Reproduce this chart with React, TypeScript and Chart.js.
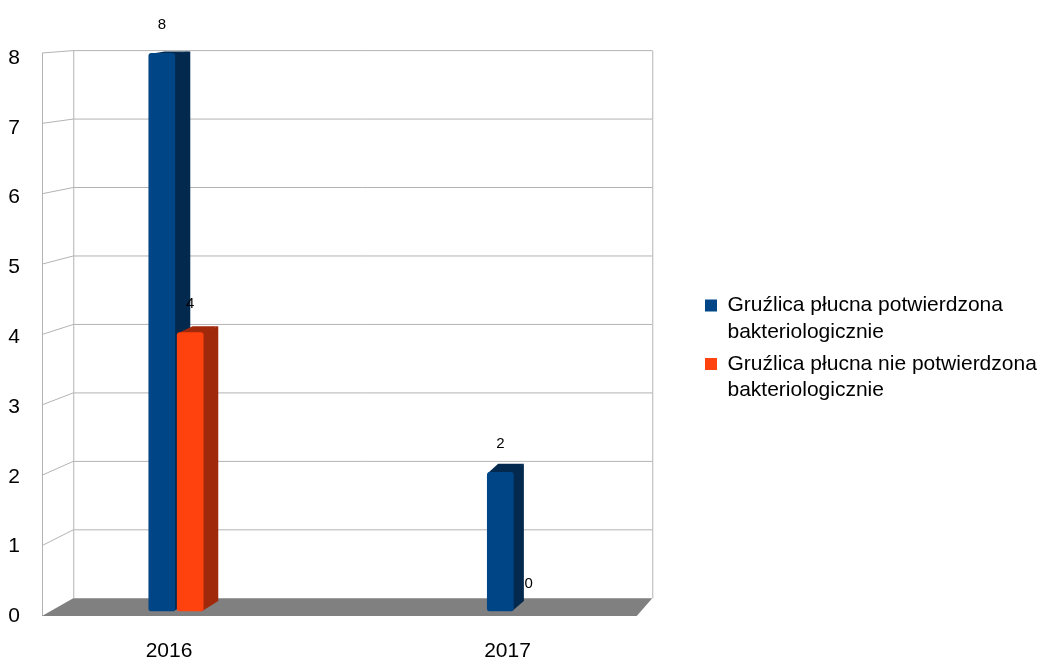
import React, { useEffect, useRef } from 'react';
import { Chart, registerables } from 'chart.js';

Chart.register(...registerables);

// ---- data ----
const categories = ['2016', '2017'];
const seriesNames = [
  'Gruźlica płucna potwierdzona bakteriologicznie',
  'Gruźlica płucna nie potwierdzona bakteriologicznie',
];
const confirmedValues = [8, 2];
const unconfirmedValues = [4, 0];
const yMin = 0;
const yTop = 8; // highest gridline / tick
const yStep = 1;
const yAxisMax = 8.1576; // axis headroom above the last tick

const frontColors = ['#004586', '#ff420e'];
const sideColors = ['#04294f', '#a0290b'];
const FONT = "'Liberation Sans', Arial, Helvetica, sans-serif";

const lerp = (a: number, b: number, t: number) => a + (b - a) * t;

// pseudo-3D walls, floor and bar sides
const wall3d = {
  id: 'wall3d',
  beforeDatasetsDraw(chart: any) {
    const { ctx, chartArea: ca, scales } = chart;
    const y = scales.y;
    const top = y.getPixelForValue(yTop);
    const bottom = y.getPixelForValue(yMin);
    const t = (v: number) => (v - yMin) / (yTop - yMin);
    const front = (v: number) => lerp(bottom + 4.5, top, t(v));
    const back = (v: number) => lerp(bottom - 13.2, top - 2.4, t(v));
    const FL = ca.left + 35.25;
    const BL = ca.left + 66.5;
    const BR = ca.right - 31.5;
    const FR = ca.right - 47;

    ctx.save();
    ctx.strokeStyle = '#b3b3b3';
    ctx.lineWidth = 1;
    for (let v = yMin + yStep; v <= yTop; v += yStep) {
      ctx.beginPath();
      ctx.moveTo(FL, front(v));
      ctx.lineTo(BL, back(v));
      ctx.lineTo(BR, back(v));
      ctx.stroke();
    }
    ctx.beginPath();
    ctx.moveTo(FL + 0.5, front(yTop));
    ctx.lineTo(FL + 0.5, front(yMin));
    ctx.moveTo(BL + 0.5, back(yTop));
    ctx.lineTo(BL + 0.5, back(yMin));
    ctx.moveTo(BR + 0.5, back(yTop));
    ctx.lineTo(BR + 0.5, back(yMin));
    ctx.stroke();

    // floor
    ctx.fillStyle = '#808080';
    ctx.beginPath();
    ctx.moveTo(FL, front(yMin));
    ctx.lineTo(BL, back(yMin));
    ctx.lineTo(BR, back(yMin));
    ctx.lineTo(FR, front(yMin));
    ctx.closePath();
    ctx.fill();

    // bar sides and caps
    chart.data.datasets.forEach((ds: any, di: number) => {
      const meta = chart.getDatasetMeta(di);
      meta.data.forEach((bar: any) => {
        const { x, y: by, base, width } = bar.getProps(['x', 'y', 'base', 'width'], true);
        if (base - by < 0.5) return;
        const L = x - width / 2;
        const R = x + width / 2;
        const dx = 15.5 - 0.0145 * (R - 150);
        const dyT = 1.5 + 0.016 * (by - top);
        const dyB = 1.5 + 0.016 * (base - top);
        ctx.fillStyle = sideColors[di];
        ctx.beginPath();
        ctx.moveTo(R - 2, by);
        ctx.lineTo(R + dx, by - dyT);
        ctx.lineTo(R + dx, base - dyB);
        ctx.lineTo(R - 2, base);
        ctx.closePath();
        ctx.fill();
        ctx.beginPath();
        ctx.moveTo(L + 1, by + 1);
        ctx.lineTo(L + 1 + dx, by - dyT);
        ctx.lineTo(R + dx, by - dyT);
        ctx.lineTo(R - 1, by + 1);
        ctx.closePath();
        ctx.fill();
      });
    });
    ctx.restore();
  },
  afterDatasetsDraw(chart: any) {
    const { ctx } = chart;
    ctx.save();
    ctx.fillStyle = '#000';
    ctx.font = `15px ${FONT}`;
    ctx.textAlign = 'center';
    ctx.textBaseline = 'middle';
    chart.data.datasets.forEach((ds: any, di: number) => {
      const meta = chart.getDatasetMeta(di);
      meta.data.forEach((bar: any, i: number) => {
        const { x, y } = bar.getProps(['x', 'y'], true);
        ctx.fillText(String(ds.data[i]), x, y - 28);
      });
    });
    ctx.restore();
  },
};

const splitName = (s: string) => {
  const k = s.lastIndexOf(' ');
  return [s.slice(0, k), s.slice(k + 1)];
};

export default function App() {
  const ref = useRef<HTMLCanvasElement>(null);
  useEffect(() => {
    if (!ref.current) return;
    Chart.defaults.font.family = FONT;
    Chart.defaults.color = '#000';
    const chart = new Chart(ref.current, {
      type: 'bar',
      data: {
        labels: categories,
        datasets: [
          {
            label: seriesNames[0],
            data: confirmedValues,
            backgroundColor: frontColors[0],
            borderWidth: 0,
            borderRadius: 3,
            borderSkipped: false,
            categoryPercentage: 0.1678,
            barPercentage: 0.94,
          },
          {
            label: seriesNames[1],
            data: unconfirmedValues,
            backgroundColor: frontColors[1],
            borderWidth: 0,
            borderRadius: 3,
            borderSkipped: false,
            categoryPercentage: 0.1678,
            barPercentage: 0.94,
          },
        ],
      },
      options: {
        responsive: false,
        animation: false,
        events: [],
        devicePixelRatio: 1,
        layout: { padding: { left: 6.75, right: 12, top: 42, bottom: 0 } },
        scales: {
          x: {
            offset: true,
            grid: { display: false, drawTicks: false },
            border: { display: false },
            ticks: { font: { size: 21 }, color: '#000', padding: 27.4, labelOffset: -7 },
            afterFit: (s: any) => { s.height = 47.5; },
          },
          y: {
            min: yMin,
            max: yAxisMax,
            grid: { display: false, drawTicks: false },
            border: { display: false },
            ticks: {
              stepSize: yStep,
              includeBounds: false,
              mirror: true,
              padding: 1.5,
              labelOffset: 5,
              font: { size: 21 },
              color: '#000',
            },
            afterFit: (s: any) => { s.width = 0; },
          },
          yPad: {
            type: 'linear',
            position: 'right',
            display: true,
            grid: { display: false, drawTicks: false },
            border: { display: false },
            ticks: { display: false },
            afterFit: (s: any) => { s.width = 15.25; },
          },
        },
        plugins: {
          tooltip: { enabled: false },
          legend: {
            position: 'right',
            align: 'center',
            maxWidth: 340,
            labels: {
              boxWidth: 12,
              boxHeight: 12,
              padding: 6,
              color: '#000',
              font: { size: 21, lineHeight: 1.25 },
              generateLabels: (c: any) =>
                (Chart.defaults.plugins.legend.labels.generateLabels as any)(c).map((it: any) => ({
                  ...it,
                  text: splitName(it.text),
                  lineWidth: 0,
                })),
            },
          },
        },
      } as any,
      plugins: [wall3d],
    });
    return () => chart.destroy();
  }, []);
  return (
    <div style={{ position: 'absolute', left: 0, top: 0, width: 1051, height: 659 }}>
      <canvas ref={ref} width={1051} height={659} style={{ display: 'block' }} />
    </div>
  );
}
